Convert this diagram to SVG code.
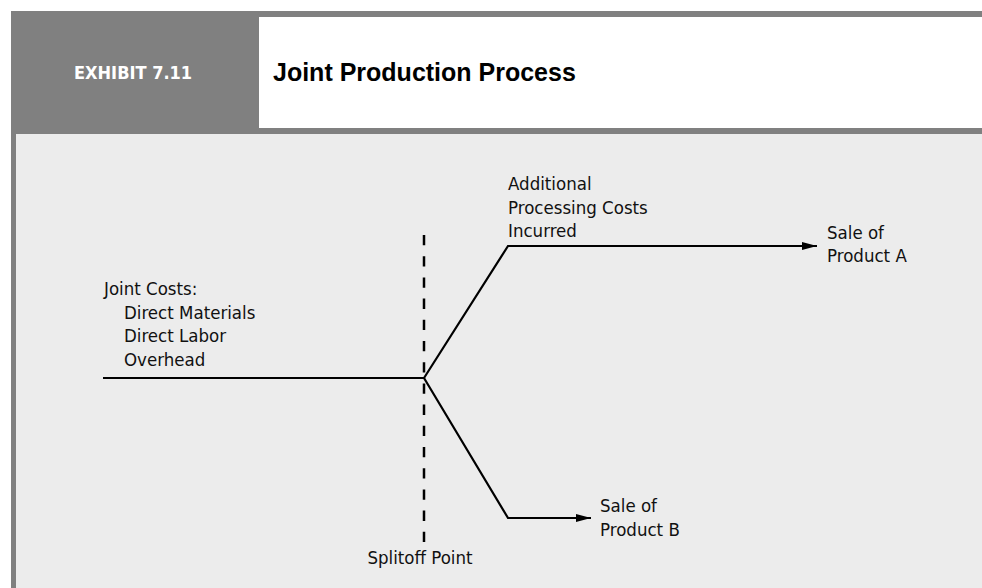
<svg xmlns="http://www.w3.org/2000/svg" width="982" height="588" viewBox="0 0 982 588">
  <defs>
    <style>
      .lbl { font-family: "DejaVu Sans Condensed", "DejaVu Sans", "Liberation Sans", sans-serif; font-stretch: condensed; font-size: 18.5px; fill: #111; }
      .ln { fill: none; stroke: #000; stroke-width: 2.2; stroke-linejoin: miter; }
    </style>
    <marker id="arr" viewBox="0 0 15 8" refX="15" refY="4" markerWidth="15" markerHeight="8" markerUnits="userSpaceOnUse" orient="auto">
      <path d="M0,0 L15,4 L0,8 Z" fill="#000"/>
    </marker>
  </defs>

  <rect x="0" y="0" width="982" height="588" fill="#ffffff"/>
  <g id="frame">
    <rect x="11" y="11" width="971" height="577" fill="#808080"/>
    <rect x="259" y="17" width="723" height="111" fill="#ffffff"/>
    <rect x="16" y="134" width="966" height="454" fill="#ececec"/>
    <text x="74" y="79" font-family="DejaVu Sans Condensed, DejaVu Sans, sans-serif" font-stretch="condensed" font-size="18" font-weight="bold" fill="#ffffff">EXHIBIT 7.11</text>
    <text x="273" y="81" font-family="Liberation Sans, Arial, sans-serif" font-size="25" font-weight="bold" fill="#000000">Joint Production Process</text>
  </g>

  <g id="connectors">
    <line x1="424" y1="235" x2="424" y2="544" stroke="#000" stroke-width="2.5" stroke-dasharray="10.3 10.9"/>
    <polyline class="ln" points="103,378 424,378"/>
    <polyline class="ln" points="424,378 508,246 817,246" marker-end="url(#arr)"/>
    <polyline class="ln" points="424,378 508,518 591,518" marker-end="url(#arr)"/>
  </g>

  <g id="joint-costs">
    <text class="lbl" x="104" y="295">Joint Costs:</text>
    <text class="lbl" x="124" y="318.5">Direct Materials</text>
    <text class="lbl" x="124" y="342">Direct Labor</text>
    <text class="lbl" x="124" y="365.5">Overhead</text>
  </g>

  <g id="additional-processing">
    <text class="lbl" x="508" y="190">Additional</text>
    <text class="lbl" x="508" y="213.5">Processing Costs</text>
    <text class="lbl" x="508" y="237">Incurred</text>
  </g>

  <g id="sale-a">
    <text class="lbl" x="827" y="239">Sale of</text>
    <text class="lbl" x="827" y="262">Product A</text>
  </g>

  <g id="sale-b">
    <text class="lbl" x="600" y="512">Sale of</text>
    <text class="lbl" x="600" y="536">Product B</text>
  </g>

  <g id="splitoff">
    <text class="lbl" x="420" y="564" text-anchor="middle">Splitoff Point</text>
  </g>
</svg>
